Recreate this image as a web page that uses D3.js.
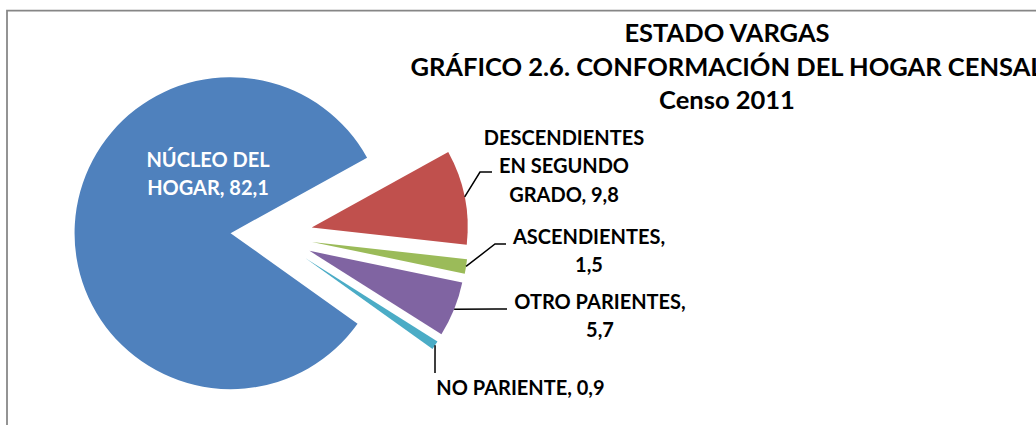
<!DOCTYPE html>
<html>
<head>
<meta charset="utf-8">
<script src="https://cdnjs.cloudflare.com/ajax/libs/d3/7.8.5/d3.min.js"></script>
<style>
  body { margin: 0; background: #fff; }
  svg { display: block; }
  text { font-family: Lato, "Open Sans", sans-serif; font-weight: bold; }
</style>
</head>
<body>
<div id="chart"></div>
<script>
var categories = ["NÚCLEO DEL HOGAR", "DESCENDIENTES EN SEGUNDO GRADO", "ASCENDIENTES", "OTRO PARIENTES", "NO PARIENTE"];
var values = [82.1, 9.8, 1.5, 5.7, 0.9];
var colors = ["#4F81BD", "#C0504D", "#9BBB59", "#8064A2", "#4BACC6"];
var titleLines = ["ESTADO VARGAS", "GRÁFICO 2.6. CONFORMACIÓN DEL HOGAR CENSAL", "Censo 2011"];

var size = {
  width: 1036,
  height: 425,
  cx: 271.5,
  cy: 235.5,
  radius: 156,
  explode: 41
};

// where each data label sits: words per line, centre x, first baseline, leader elbow + end
var labelLayout = [
  {words: [2, 2], x: 208, y: 166.5, fill: "#fff"},
  {words: [1, 2, 2], x: 564, y: 145, elbow: [480, 172], end: [492, 172]},
  {words: [1, 1], x: 589, y: 243.5, elbow: [495, 244], end: [506, 244]},
  {words: [2, 1], x: 600, y: 308.5, elbow: [496, 309], end: [507, 309]},
  {words: [3], x: 520.5, y: 395, elbow: [435, 360], end: [435, 373]}
];
var lineGap = 28.4;

var svg = d3.select("#chart")
  .append("svg")
  .attr("width", size.width)
  .attr("height", size.height);

// chart area border (only left and top visible)
svg.append("path")
  .attr("d", "M7," + size.height + "V10.5H" + size.width)
  .attr("fill", "none")
  .attr("stroke", "#868686")
  .attr("stroke-width", 1.75);

var pie = d3.pie()
  .sort(null)
  .value(function(d){ return d; })
  .startAngle(125.5 * Math.PI / 180)
  .endAngle(125.5 * Math.PI / 180 + 2 * Math.PI);

var arc = d3.arc()
  .innerRadius(0)
  .outerRadius(size.radius);

var arcs = pie(values);

var midAngle = function(d){
  return (d.startAngle + d.endAngle) / 2;
};
var offset = function(d, r){
  var a = midAngle(d);
  return [Math.sin(a) * r, -Math.cos(a) * r];
};

var g = svg.append("g")
  .attr("transform", "translate(" + size.cx + "," + size.cy + ")");

g.selectAll("path.slice")
  .data(arcs)
  .enter()
  .append("path")
  .attr("class", "slice")
  .attr("d", arc)
  .attr("fill", function(d, i){ return colors[i]; })
  .attr("transform", function(d){
    var o = offset(d, size.explode);
    return "translate(" + o[0] + "," + o[1] + ")";
  });

// leader lines
arcs.forEach(function(d, i){
  var lay = labelLayout[i];
  if (!lay.elbow) return;
  var o = offset(d, size.explode);
  var p = offset(d, size.radius);
  var start = [size.cx + o[0] + p[0], size.cy + o[1] + p[1]];
  svg.append("polyline")
    .attr("points", [start, lay.elbow, lay.end].map(function(q){ return q.join(","); }).join(" "))
    .attr("fill", "none")
    .attr("stroke", "#000")
    .attr("stroke-width", 1.5);
});

// data labels
var fmt = function(v){
  return d3.format(".1f")(v).replace(".", ",");
};

categories.forEach(function(c, i){
  var lay = labelLayout[i];
  var words = (c + ", " + fmt(values[i])).split(" ");
  var lines = [];
  var k = 0;
  lay.words.forEach(function(n){
    lines.push(words.slice(k, k + n).join(" "));
    k += n;
  });
  var t = svg.append("text")
    .attr("text-anchor", "middle")
    .attr("font-size", 20)
    .attr("fill", lay.fill || "#000");
  lines.forEach(function(l, j){
    t.append("tspan")
      .attr("x", lay.x)
      .attr("y", lay.y + j * lineGap)
      .text(l);
  });
});

// title
var title = svg.append("text")
  .attr("text-anchor", "middle")
  .attr("font-size", 25.5)
  .attr("fill", "#000");
var titleY = [41.5, 75.5, 109];
titleLines.forEach(function(l, j){
  title.append("tspan")
    .attr("x", 727)
    .attr("y", titleY[j])
    .text(l);
});
</script>
</body>
</html>
